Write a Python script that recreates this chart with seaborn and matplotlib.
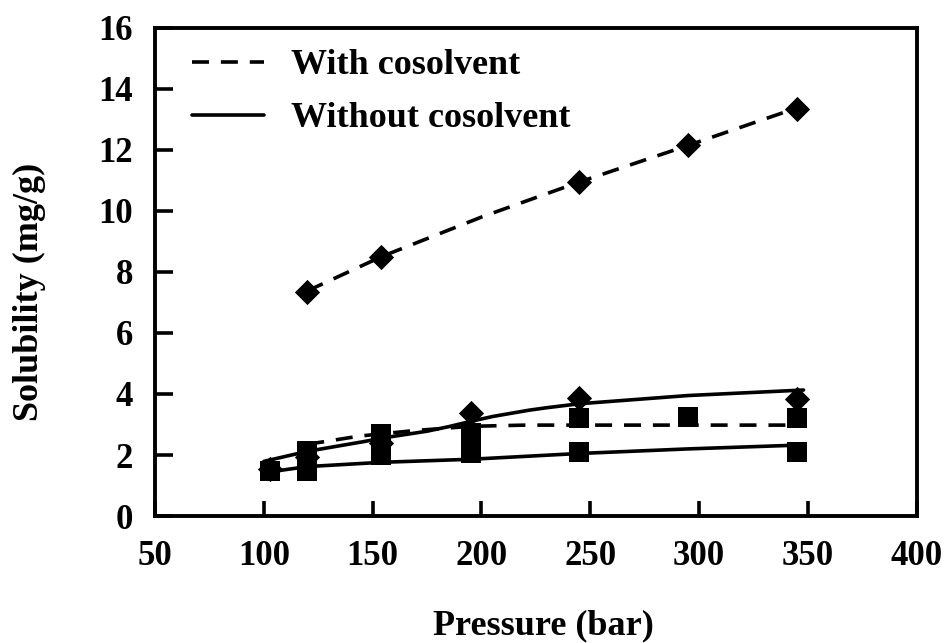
import numpy as np
import pandas as pd
import seaborn as sns
import matplotlib.pyplot as plt

# Measured solubility points (pressure in bar, solubility in mg/g)
with_diamond_p = [120, 154, 245, 295, 345]
with_diamond_s = [7.35, 8.5, 10.95, 12.15, 13.35]

with_square_p = [120, 154, 195, 245, 295, 345]
with_square_s = [2.12, 2.7, 2.72, 3.22, 3.25, 3.22]

without_diamond_p = [103, 120, 154, 195, 245, 345]
without_diamond_s = [1.55, 1.95, 2.4, 3.38, 3.88, 3.84]

without_square_p = [103, 120, 154, 195, 245, 345]
without_square_s = [1.48, 1.48, 2.0, 2.08, 2.1, 2.1]

# Fitted model curves
fit_with_upper_p = [120, 154, 200, 245, 295, 345]
fit_with_upper_s = [7.38, 8.5, 9.8, 10.95, 12.15, 13.38]

fit_with_lower_p = [120, 144, 169, 195, 220, 348]
fit_with_lower_s = [2.35, 2.62, 2.8, 2.94, 2.98, 2.98]

fit_without_upper_p = [100, 120, 146, 154, 175, 185, 195, 205, 213, 222, 230, 245, 295, 348]
fit_without_upper_s = [1.79, 2.12, 2.44, 2.55, 2.78, 2.93, 3.1, 3.26, 3.36, 3.47, 3.55, 3.68, 3.95, 4.13]

fit_without_lower_p = [103, 120, 154, 195, 245, 295, 348]
fit_without_lower_s = [1.45, 1.62, 1.76, 1.86, 2.05, 2.2, 2.33]

legend_labels = ["With cosolvent", "Without cosolvent"]
x_ticks = [50, 100, 150, 200, 250, 300, 350, 400]
y_ticks = [0, 2, 4, 6, 8, 10, 12, 14, 16]

sns.set_theme(style="ticks")
plt.rcParams["font.family"] = ["Liberation Serif", "DejaVu Serif"]
plt.rcParams["font.weight"] = "bold"
plt.rcParams["axes.labelweight"] = "bold"
plt.rcParams["text.color"] = "black"
plt.rcParams["axes.labelcolor"] = "black"
plt.rcParams["xtick.color"] = "black"
plt.rcParams["ytick.color"] = "black"

fig, ax = plt.subplots(figsize=(9.45, 6.43), dpi=100)
fig.subplots_adjust(left=0.164, right=0.970, top=0.9565, bottom=0.1975)

LW = 2.6
DASH = (0, (4.7, 3.3))

# Curves
curves = [
    (fit_with_upper_p, fit_with_upper_s, True),
    (fit_with_lower_p, fit_with_lower_s, True),
    (fit_without_upper_p, fit_without_upper_s, False),
    (fit_without_lower_p, fit_without_lower_s, False),
]
for p, s, dashed in curves:
    df = pd.DataFrame({"p": p, "s": s})
    sns.lineplot(data=df, x="p", y="s", ax=ax, color="black", linewidth=LW,
                 legend=False)
    line = ax.lines[-1]
    if dashed:
        line.set_linestyle(DASH)

# Markers
markers = [
    (with_diamond_p, with_diamond_s, "D", 165),
    (with_square_p, with_square_s, "s", 190),
    (without_diamond_p, without_diamond_s, "D", 165),
    (without_square_p, without_square_s, "s", 190),
]
for p, s, m, size in markers:
    df = pd.DataFrame({"p": p, "s": s})
    sns.scatterplot(data=df, x="p", y="s", ax=ax, marker=m, s=size,
                    color="black", edgecolor="black", linewidth=0,
                    legend=False, zorder=3)

# Legend with line samples only
handles = [
    plt.Line2D([], [], color="black", linewidth=LW, linestyle=DASH),
    plt.Line2D([], [], color="black", linewidth=LW),
]
ax.legend(handles, legend_labels, loc="upper left",
          bbox_to_anchor=(0.048, 0.957), frameon=False, borderpad=0,
          borderaxespad=0, handlelength=2.0, handletextpad=0.75,
          labelspacing=0.55, prop={"size": 26, "weight": "bold"})

ax.set_xlim(50, 400)
ax.set_ylim(0, 16)
ax.set_xticks(x_ticks)
ax.set_yticks(y_ticks)
ax.set_xticklabels([str(v) for v in x_ticks])
ax.set_yticklabels([str(v) for v in y_ticks])

ax.tick_params(axis="both", direction="in", width=2.6, colors="black",
               labelsize=25)
ax.tick_params(axis="x", length=11, pad=17)
ax.tick_params(axis="y", length=13, pad=16)
for lab in ax.get_xticklabels() + ax.get_yticklabels():
    lab.set_fontweight("bold")

for sp in ax.spines.values():
    sp.set_visible(True)
    sp.set_linewidth(2.8)
    sp.set_color("black")

ax.set_xlabel("Pressure (bar)", fontsize=26, fontweight="bold")
ax.set_ylabel("Solubility (mg/g)", fontsize=26, fontweight="bold")
ax.xaxis.set_label_coords(0.5105, -0.192)
ax.yaxis.set_label_coords(-0.143, 0.459)

fig.savefig("out.png", dpi=100, facecolor="white")
